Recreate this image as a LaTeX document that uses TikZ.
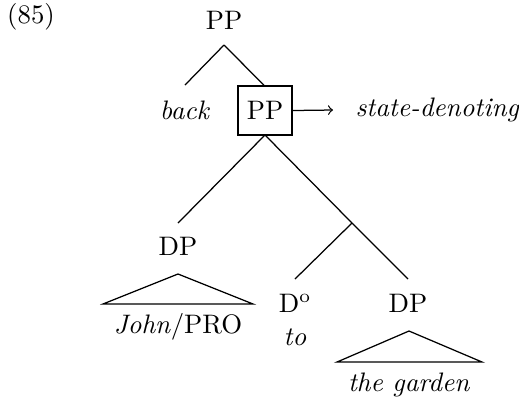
\documentclass[tikz,border=0pt]{standalone}
\begin{document}
\begin{tikzpicture}[x=0.4pt,y=-0.4pt,
  font=\fontsize{10.7pt}{13pt}\selectfont,
  lbl/.style={inner sep=0pt,anchor=center},
  branch/.style={line width=0.5pt},
  boxed/.style={draw,line width=0.6pt,inner sep=0pt,minimum width=21.6pt,minimum height=19.6pt}]
\useasboundingbox (0,0) rectangle (519,403);
% example number
\node[lbl] (ex) at (31,17) {(85)};
% top projection
\node[lbl] (pp) at (224,20) {PP};
\coordinate (ppfoot) at (224,45);
\coordinate (backtop) at (185,85);
\node[lbl] (back) at (185,110) {\textit{back}};
\node[boxed] (ppbox) at (265,110.5) {PP};
% arrow to the annotation
\coordinate (arrowend) at (333,110);
\node[lbl,anchor=west] (state) at (355,110) {\textit{state-denoting}};
\draw[branch,-to] (ppbox.east) -- (arrowend);
\draw[branch] (ppfoot) -- (backtop);
\draw[branch] (ppfoot) -- (ppbox.north -| 264,0);
% lower branching
\coordinate (boxfoot) at (265,135);
\coordinate (dptop) at (178,223);
\coordinate (junction) at (352,223);
\node[lbl] (dp) at (178,246) {DP};
\draw[branch] (boxfoot) -- (dptop);
\draw[branch] (boxfoot) -- (junction);
% subject triangle
\coordinate (triA) at (178,274);
\coordinate (triAl) at (103,304);
\coordinate (triAr) at (253,304);
\draw[branch] (triAl) -- (triA) -- (triAr) -- cycle;
\node[lbl] (john) at (178,327) {\textit{John}/PRO};
% determiner and object
\coordinate (dtop) at (295,279);
\coordinate (dp2top) at (408,279);
\draw[branch] (junction) -- (dtop);
\draw[branch] (junction) -- (dp2top);
\node[lbl] (d) at (295,303) {D\textsuperscript{o}};
\node[lbl] (to) at (295,337) {\textit{to}};
\node[lbl] (dp2) at (408,303) {DP};
\coordinate (triB) at (409,331);
\coordinate (triBl) at (337,362);
\coordinate (triBr) at (482,362);
\draw[branch] (triBl) -- (triB) -- (triBr) -- cycle;
\node[lbl] (garden) at (409,385) {\textit{the garden}};
\end{tikzpicture}
\end{document}
